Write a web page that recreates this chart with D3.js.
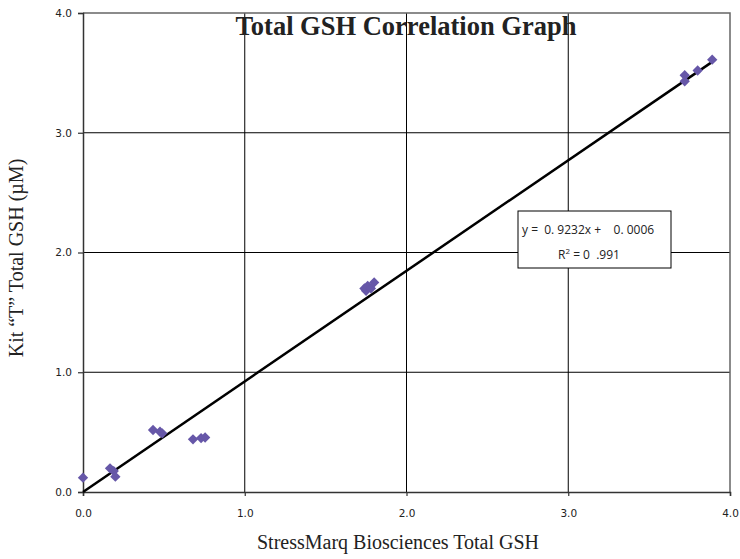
<!DOCTYPE html>
<html>
<head>
<meta charset="utf-8">
<script src="https://cdn.jsdelivr.net/npm/d3@7"></script>
<style>
  body { margin: 0; background: #fff; }
  svg text { fill: #222; }
</style>
</head>
<body>
<svg id="chart" width="740" height="559"></svg>
<script>
// StressMarq value (x) vs Kit "T" value (y)
const xValues = [0, 0.167, 0.19, 0.2, 0.433, 0.476, 0.49, 0.68, 0.73, 0.755,
                 1.74, 1.75, 1.76, 1.78, 1.80, 3.72, 3.72, 3.80, 3.89];
const yValues = [0.12, 0.198, 0.175, 0.128, 0.518, 0.503, 0.49, 0.44, 0.45, 0.455,
                 1.70, 1.68, 1.72, 1.70, 1.75, 3.48, 3.43, 3.52, 3.61];
const tickValues = [0, 1, 2, 3, 4];
const slope = 0.9232;
const intercept = 0.0006;

const svg = d3.select("#chart");
const plotLeft = 83, plotRight = 730, plotTop = 13, plotBottom = 492;

const x = d3.scaleLinear().domain([0, 4]).range([plotLeft, plotRight]);
const y = d3.scaleLinear().domain([0, 4]).range([plotBottom, plotTop]);

// gridlines
svg.append("g").selectAll("line")
  .data([1, 2, 3])
  .enter().append("line")
  .attr("x1", d => x(d)).attr("x2", d => x(d))
  .attr("y1", plotTop).attr("y2", plotBottom)
  .attr("stroke", "#000").attr("stroke-width", 1);
svg.append("g").selectAll("line")
  .data([1, 2, 3])
  .enter().append("line")
  .attr("y1", d => y(d)).attr("y2", d => y(d))
  .attr("x1", plotLeft).attr("x2", plotRight)
  .attr("stroke", "#000").attr("stroke-width", 1);

// plot frame top/right
svg.append("path")
  .attr("d", `M${plotLeft},${plotTop}H${plotRight}V${plotBottom}`)
  .attr("fill", "none").attr("stroke", "#666").attr("stroke-width", 1.5);

// axes
const fmt = d3.format(".1f");
const xAxis = svg.append("g")
  .attr("transform", `translate(0,${plotBottom})`)
  .call(d3.axisBottom(x).tickValues(tickValues).tickFormat(fmt).tickSize(4).tickPadding(14));
const yAxis = svg.append("g")
  .attr("transform", `translate(${plotLeft},0)`)
  .call(d3.axisLeft(y).tickValues(tickValues).tickFormat(fmt).tickSize(5).tickPadding(6));
[xAxis, yAxis].forEach(g => {
  g.select(".domain").attr("stroke", "#333").attr("stroke-width", 1.5);
  g.selectAll(".tick line").attr("stroke", "#333").attr("stroke-width", 1.2);
  g.selectAll(".tick text")
    .attr("font-family", "DejaVu Sans, sans-serif")
    .attr("font-size", 10.5)
    .attr("fill", "#222");
});

// trendline
const xMax = d3.max(xValues);
svg.append("line")
  .attr("x1", x(0)).attr("y1", y(intercept))
  .attr("x2", x(xMax)).attr("y2", y(slope * xMax + intercept))
  .attr("stroke", "#000").attr("stroke-width", 2.5);

// points
const diamond = d3.symbol().type(d3.symbolDiamond2).size(68);
svg.append("g").selectAll("path")
  .data(xValues.map((v, i) => [v, yValues[i]]))
  .enter().append("path")
  .attr("d", diamond)
  .attr("transform", d => `translate(${x(d[0])},${y(d[1])})`)
  .attr("fill", "#6657a8");

// equation box
const box = svg.append("g");
box.append("rect")
  .attr("x", 518).attr("y", 211).attr("width", 153).attr("height", 57)
  .attr("fill", "#fff").attr("stroke", "#000").attr("stroke-width", 1);
box.append("text")
  .attr("x", 522).attr("y", 234)
  .attr("font-family", "Open Sans, sans-serif").attr("font-size", 12)
  .attr("xml:space", "preserve")
  .text("y =  0. 9232x +    0. 0006");
const r2 = box.append("text")
  .attr("x", 589).attr("y", 259)
  .attr("text-anchor", "middle")
  .attr("font-family", "Open Sans, sans-serif").attr("font-size", 12)
  .attr("xml:space", "preserve");
r2.append("tspan").text("R");
r2.append("tspan").attr("font-size", 8).attr("dy", -5).text("2");
r2.append("tspan").attr("dy", 5).text(" = 0  .991");

// title
svg.append("text")
  .attr("x", 406).attr("y", 35)
  .attr("text-anchor", "middle")
  .attr("font-family", "Liberation Serif, serif")
  .attr("font-weight", "bold").attr("font-size", 26.5)
  .attr("fill", "#222")
  .text("Total GSH Correlation Graph");

// axis titles
svg.append("text")
  .attr("x", 398).attr("y", 549)
  .attr("text-anchor", "middle")
  .attr("font-family", "Liberation Serif, serif")
  .attr("font-size", 20).attr("fill", "#333")
  .text("StressMarq Biosciences Total GSH");
svg.append("text")
  .attr("transform", "translate(23,258) rotate(-90)")
  .attr("text-anchor", "middle")
  .attr("font-family", "Liberation Serif, serif")
  .attr("font-size", 20).attr("fill", "#333")
  .text("Kit \u201CT\u201D Total GSH (\u00B5M)");
</script>
</body>
</html>
